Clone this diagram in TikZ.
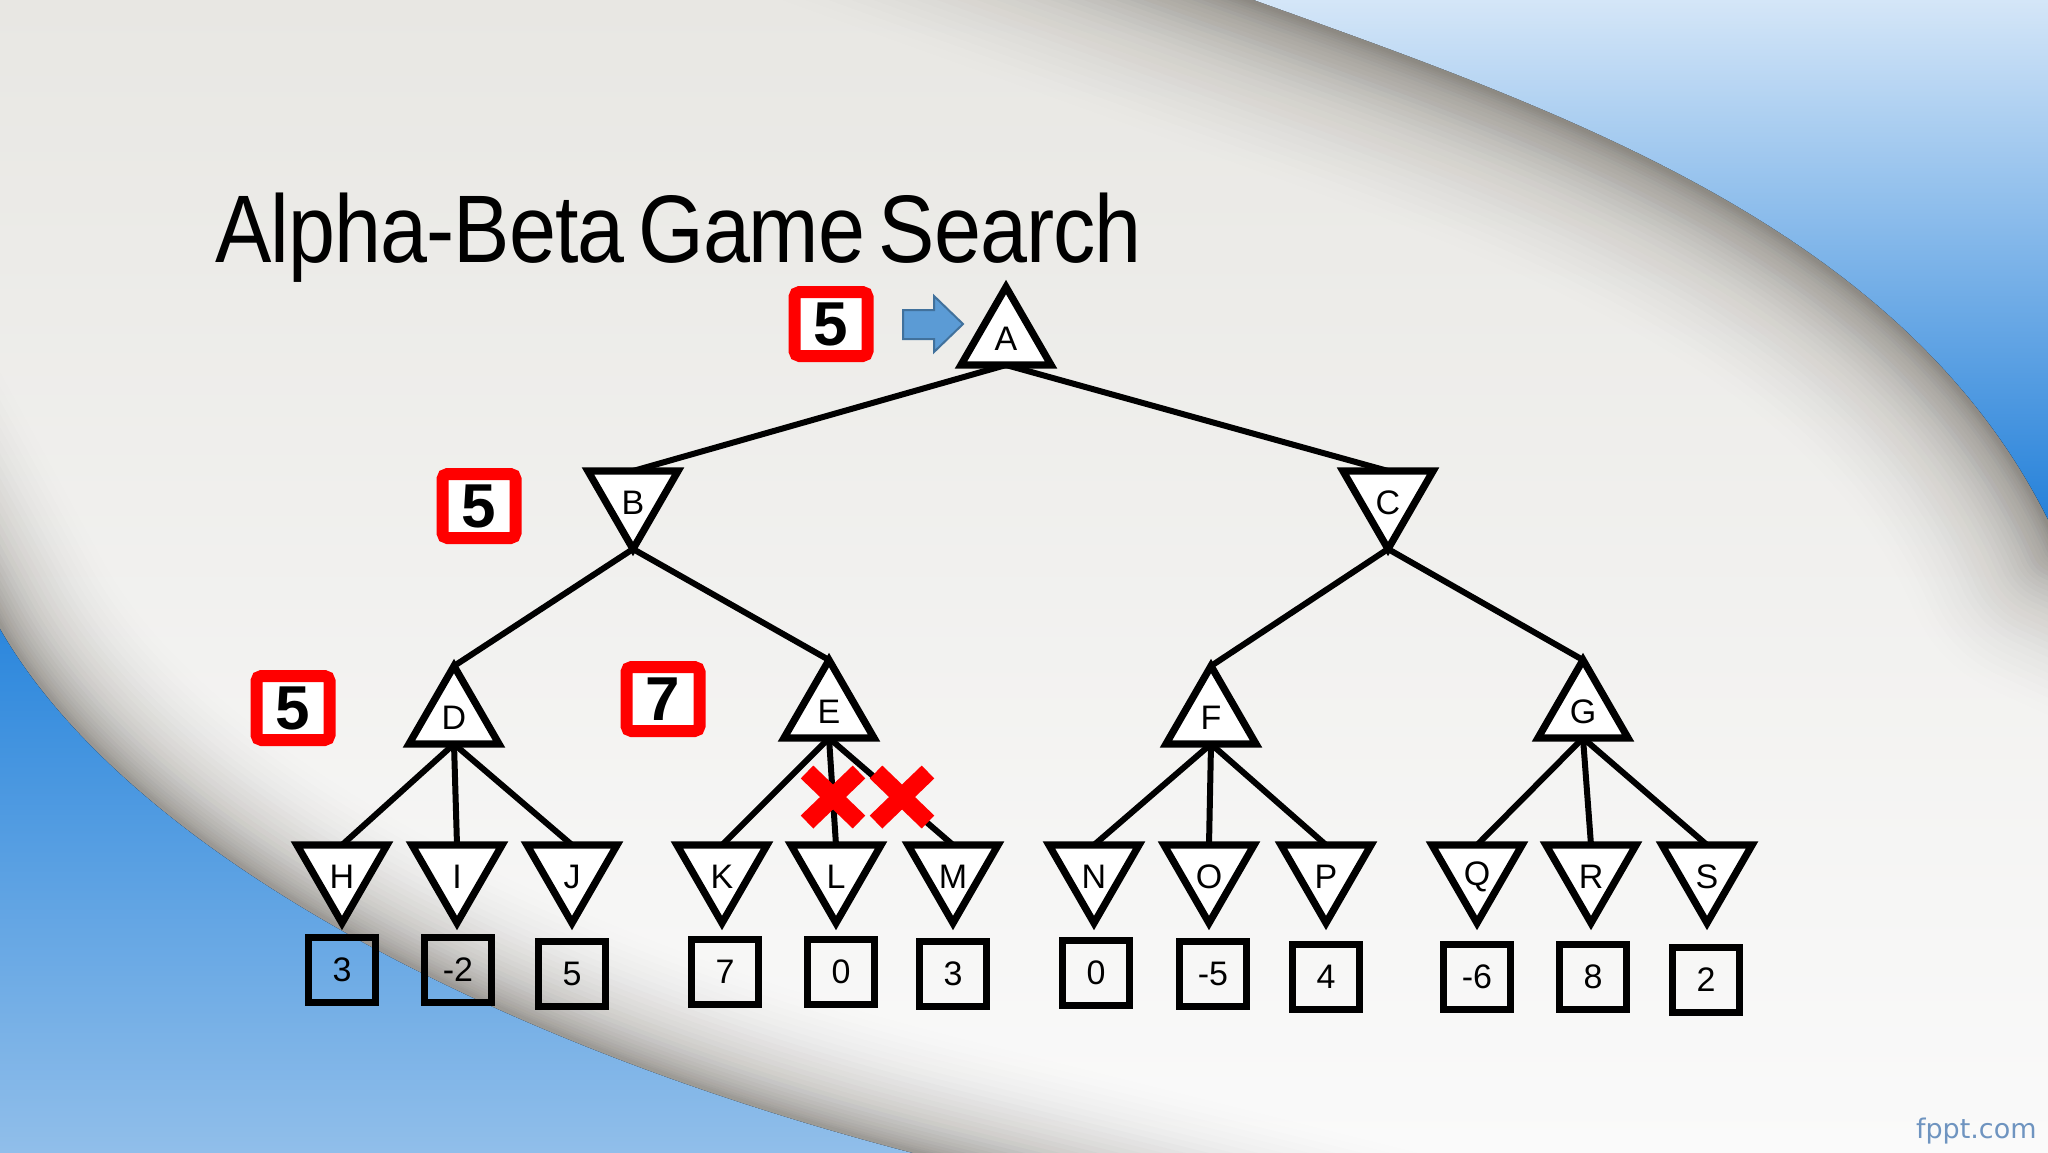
\documentclass[tikz,border=0pt]{standalone}
\usepackage{fontspec}
\setmainfont{Liberation Sans}
\newfontfamily\titlefont[FakeStretch=0.88,LetterSpace=-1.0,WordSpace=0.6]{Liberation Sans}
\newfontfamily\wmfont{DejaVu Sans}
\usetikzlibrary{shapes.geometric,shapes.misc}
\newcommand\dnlbl[1]{\raisebox{-3pt}[\height][\depth]{#1}}
\definecolor{redc}{RGB}{255,0,0}
\definecolor{arrowfill}{RGB}{91,155,213}
\definecolor{arrowdraw}{RGB}{65,113,156}
\definecolor{bgtop}{RGB}{232,231,227}
\definecolor{bgbot}{RGB}{250,250,250}
\definecolor{trA}{RGB}{214,231,248}
\definecolor{trB}{RGB}{160,202,241}
\definecolor{trC}{RGB}{28,124,216}
\definecolor{blA}{RGB}{42,134,220}
\definecolor{blB}{RGB}{146,191,234}
\definecolor{shadowc}{RGB}{95,90,82}
\definecolor{wmc}{RGB}{111,148,192}
\def\trcurve{(1240,-5) .. controls (1560,110) and (1920,230) .. (2060,545)}
\def\trshadow{(600,-235) -- (1240,-5) .. controls (1560,110) and (1920,230) .. (2060,545) -- (2400,700)}
\def\blcurve{(-5,620) .. controls (120,850) and (500,1050) .. (940,1160)}
\def\blshadow{(-255,160) -- (-5,620) .. controls (120,850) and (500,1050) .. (940,1160) -- (1740,1360)}
\begin{document}
\begin{tikzpicture}[x=0.5pt,y=-0.5pt,
  tri/.style={regular polygon, regular polygon sides=3, draw=black, fill=white,
    line width=3.6pt, minimum size=52pt, inner sep=0pt, outer sep=0pt,
    font=\fontsize{17}{17}\selectfont},
  maxn/.style={tri},
  minn/.style={tri, shape border rotate=180},
  vbox/.style={draw=black, line width=3.2pt, minimum width=33.5pt, minimum height=32.5pt,
    inner sep=0pt, font=\fontsize{17}{17}\selectfont},
  redbox/.style={draw=redc, line width=6pt, fill=white, minimum width=36.5pt,
    minimum height=32pt, rounded corners=2.5pt, inner sep=0pt,
    font=\fontsize{31}{31}\selectfont\bfseries},
  cut/.style={cross out, draw=redc, line width=9pt, minimum width=17pt,
    minimum height=16pt, inner sep=0pt},
  branch/.style={draw=black, line width=3pt}
]
\useasboundingbox (0,0) rectangle (2048,1152);
\clip (0,0) rectangle (2048,1152);
% background
\fill[top color=bgtop, bottom color=bgbot] (0,0) rectangle (2048,1152);
\foreach \i in {1,...,32} {
  \pgfmathsetmacro\lw{3+165*(\i/32)^1.6}
  \pgfmathsetmacro\op{0.052*(1-(\i-1)/32)}
  \draw[line width=\lw pt, shadowc, opacity=\op, line join=round] \trshadow;
}
\foreach \i in {1,...,26} {
  \pgfmathsetmacro\lw{3+120*(\i/26)^1.5}
  \pgfmathsetmacro\op{0.055*(1-(\i-1)/26)}
  \draw[line width=\lw pt, shadowc, opacity=\op, line join=round] \blshadow;
}
\fill[top color=trA, middle color=trB, bottom color=trC] \trcurve -- (2060,-5) -- cycle;
\fill[top color=blA, bottom color=blB] \blcurve -- (-5,1160) -- cycle;
\node[anchor=base east, inner sep=0pt, text=wmc, font=\wmfont\fontsize{13.5}{14}\selectfont] (wm) at (2037,1138) {fppt.com};

% title
\node[anchor=base west, inner sep=0pt] (title) at (215,262)
  {\titlefont\fontsize{48}{48}\selectfont Alpha-Beta Game Search};

% tree nodes
\node[maxn] (A) at (1006,339) {A};
\node[minn] (B) at (633,497) {\dnlbl{B}};
\node[minn] (C) at (1388,497) {\dnlbl{C}};
\node[maxn] (D) at (454,718) {D};
\node[maxn] (E) at (829,712) {E};
\node[maxn] (F) at (1211,718) {F};
\node[maxn] (G) at (1583,712) {G};
\node[minn] (H) at (342,871) {\dnlbl{H}};
\node[minn] (I) at (457,871) {\dnlbl{I}};
\node[minn] (J) at (572,871) {\dnlbl{J}};
\node[minn] (K) at (722,871) {\dnlbl{K}};
\node[minn] (L) at (836,871) {\dnlbl{L}};
\node[minn] (M) at (953,871) {\dnlbl{M}};
\node[minn] (N) at (1094,871) {\dnlbl{N}};
\node[minn] (O) at (1209,871) {\dnlbl{O}};
\node[minn] (P) at (1326,871) {\dnlbl{P}};
\node[minn] (Q) at (1477,871) {\dnlbl{Q}};
\node[minn] (R) at (1591,871) {\dnlbl{R}};
\node[minn] (S) at (1707,871) {\dnlbl{S}};

% leaf values
\node[vbox] (vH) at (342,970) {3};
\node[vbox] (vI) at (458,970) {-2};
\node[vbox] (vJ) at (572,974) {5};
\node[vbox] (vK) at (725,972) {7};
\node[vbox] (vL) at (841,972) {0};
\node[vbox] (vM) at (953,974) {3};
\node[vbox] (vN) at (1096,973) {0};
\node[vbox] (vO) at (1213,974) {-5};
\node[vbox] (vP) at (1326,977) {4};
\node[vbox] (vQ) at (1477,977) {-6};
\node[vbox] (vR) at (1593,977) {8};
\node[vbox] (vS) at (1706,980) {2};

% edges
\draw[branch] (A.south) -- (B.north);
\draw[branch] (A.south) -- (C.north);
\draw[branch] (B.south) -- (D.north);
\draw[branch] (B.south) -- (E.north);
\draw[branch] (C.south) -- (F.north);
\draw[branch] (C.south) -- (G.north);
\foreach \p/\a/\b/\c in {D/H/I/J, E/K/L/M, F/N/O/P, G/Q/R/S} {
  \draw[branch] (\p.south) -- (\a.north);
  \draw[branch] (\p.south) -- (\b.north);
  \draw[branch] (\p.south) -- (\c.north);
}

% alpha-beta values
\node[redbox] (rA) at (831,324) {5};
\node[redbox] (rB) at (479,506) {5};
\node[redbox] (rD) at (293,708) {5};
\node[redbox] (rE) at (663,699) {7};

% arrow to A
\draw[fill=arrowfill, draw=arrowdraw, line width=1pt]
  (903,310) -- (934,310) -- (934,296) -- (963,324) -- (934,352) -- (934,339) -- (903,339) -- cycle;

% pruned marks
\node[cut] (x1) at (833,797) {};
\node[cut] (x2) at (902,797) {};
\end{tikzpicture}
\end{document}
